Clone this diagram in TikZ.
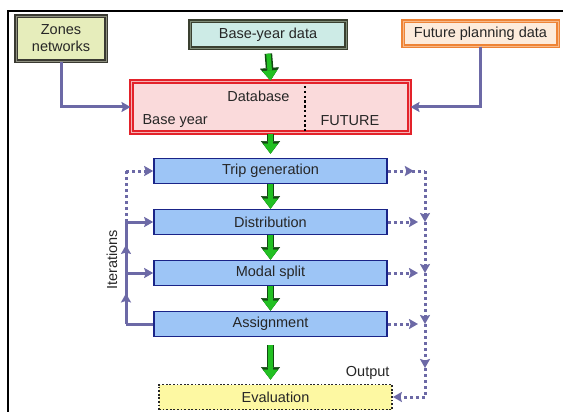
\documentclass[tikz,border=0pt]{standalone}
\usepackage{fontspec}
\setmainfont{Liberation Sans}
\usetikzlibrary{arrows.meta,decorations.markings}

\definecolor{zfill}{HTML}{E6EDBB}
\definecolor{zdraw}{HTML}{3A3A32}
\definecolor{zinner}{HTML}{8E9080}
\definecolor{bfill}{HTML}{CDEBE6}
\definecolor{bdraw}{HTML}{3A4030}
\definecolor{binner}{HTML}{7F8C78}
\definecolor{ffill}{HTML}{FDEBDB}
\definecolor{fdraw}{HTML}{EE8436}
\definecolor{finner}{HTML}{F7B98A}
\definecolor{dbfill}{HTML}{FADADB}
\definecolor{dbdraw}{HTML}{E3222A}
\definecolor{stepfill}{HTML}{9DC5F6}
\definecolor{stepdraw}{HTML}{1A2488}
\definecolor{evfill}{HTML}{FDF8A2}
\definecolor{lcol}{HTML}{6C69A6}
\definecolor{gfill}{HTML}{22C022}
\definecolor{gdark}{HTML}{124A12}

\tikzset{
  basebox/.style={inner sep=0pt, align=center, text=black!85},
  zonesbox/.style={basebox, fill=zfill, draw=zdraw, double=zinner, double distance=0.9pt, line width=1.4pt},
  yearbox/.style={basebox, fill=bfill, draw=bdraw, double=binner, double distance=0.9pt, line width=1.4pt},
  futurebox/.style={basebox, fill=ffill, draw=fdraw, double=finner, double distance=0.9pt, line width=1.4pt},
  dbbox/.style={basebox, fill=dbfill, draw=dbdraw, double=dbdraw!35!white, double distance=0.9pt, line width=2pt},
  stepbox/.style={basebox, fill=stepfill, draw=stepdraw, line width=1.6pt,
    minimum width=233pt, minimum height=25pt},
  evalbox/.style={basebox, fill=evfill, draw=black!85, line width=1.8pt,
    dash pattern=on 1.8pt off 1.8pt, minimum width=233pt, minimum height=25pt},
  tip/.style={-{Stealth[length=9pt,width=10pt,inset=1.5pt]}},
  solidline/.style={draw=lcol, line width=3pt},
  dotline/.style={draw=lcol, line width=3pt, dash pattern=on 3pt off 3pt},
  midtip/.style={postaction={decorate}, decoration={markings,
    mark=at position #1 with {\arrow{Stealth[length=9pt,width=10pt,inset=1.5pt]}}}},
  midtip/.default=0.6,
  garrow/.style={draw=gfill, line width=4.5pt,
    -{Triangle[length=10pt,width=15pt,line width=0.4pt]},
    preaction={draw=gdark, line width=7.5pt,
      -{Triangle[length=12.5pt,width=19pt,line width=0.4pt]}}},
}

\begin{document}
\begin{tikzpicture}[x=1pt,y=-1pt,font=\fontsize{14.5}{17}\selectfont]
\useasboundingbox (0,0) rectangle (563,412);

% outer frame
\draw[black, line width=1.8pt] (8,412) -- (8,11) -- (563,11);

% input boxes
\node[zonesbox, minimum width=90pt, minimum height=45pt] (zones) at (61,38.5)
  {Zones\\networks};
\node[yearbox, minimum width=156pt, minimum height=27pt] (base) at (268,34.5)
  {Base-year data};
\node[futurebox, minimum width=155pt, minimum height=25pt] (future) at (480.5,33.5)
  {Future planning data};

% database
\node[dbbox, minimum width=278pt, minimum height=51pt] (db) at (270.5,107) {};
\node[anchor=east, text=black!85] (dbtitle) at (293,96) {Database};
\node[anchor=west, text=black!85] (dbbase) at (139,121) {Base year};
\node[anchor=west, text=black!85] (dbfuture) at (317,121) {FUTURE};
\coordinate (sepTop) at (305,86);
\coordinate (sepBot) at (305,131);
\draw[black, line width=2.4pt, dash pattern=on 2.4pt off 2.4pt] (sepTop) -- (sepBot);

% model steps
\node[stepbox] (trip) at (270.5,171) {Trip generation};
\node[stepbox] (dist) at (270.5,222) {Distribution};
\node[stepbox] (modal) at (270.5,273) {Modal split};
\node[stepbox] (assign) at (270.5,324) {Assignment};
\node[evalbox] (eval) at (275.5,397) {Evaluation};
\node[anchor=east, text=black!85] (output) at (393,373) {Output};
\node[rotate=90, text=black!85] (iter) at (112,260) {Iterations};

% inputs into the database
\draw[solidline, tip] (zones.south) |- (db.west);
\draw[solidline, tip] (future.south) |- (db.east);

% main flow
\draw[garrow, shorten <=5pt] (base.south) -- (db.north);
\draw[garrow, shorten <=1pt, shorten >=4pt] (db.south) -- (trip.north);
\draw[garrow] (trip.south) -- (dist.north);
\draw[garrow] (dist.south) -- (modal.north);
\draw[garrow] (modal.south) -- (assign.north);
\draw[garrow, shorten <=8pt, shorten >=4pt] (assign.south) -- (assign.south |- eval.north);

% iteration loop on the left
\coordinate (L1) at (126,171);
\coordinate (L2) at (126,222);
\coordinate (L3) at (126,273);
\coordinate (L4) at (126,324);
\draw[dotline, tip] (L1) -- (trip.west);
\draw[dotline] (L2) -- (L1);
\draw[solidline] (assign.west) -- (L4);
\draw[solidline, midtip=0.6] (L4) -- (L3);
\draw[solidline, midtip=0.55] (L3) -- (L2);
\draw[solidline, tip] (L3) -- (modal.west);
\draw[solidline, tip] (L2) -- (dist.west);

% output collection on the right
\coordinate (R1) at (425,171);
\coordinate (R2) at (425,222);
\coordinate (R3) at (425,273);
\coordinate (R4) at (425,324);
\coordinate (R5) at (425,368);
\coordinate (R6) at (425,397);
\draw[dotline, midtip=0.7] (trip.east) -- (R1);
\draw[dotline, tip, shorten >=7pt] (dist.east) -- (R2);
\draw[dotline, tip, shorten >=7pt] (modal.east) -- (R3);
\draw[dotline, tip, shorten >=7pt] (assign.east) -- (R4);
\draw[dotline, tip] (R1) -- (R2);
\draw[dotline, tip] (R2) -- (R3);
\draw[dotline, tip] (R3) -- (R4);
\draw[dotline, tip] (R4) -- (R5);
\draw[dotline] (R5) -- (R6);
\draw[dotline, tip] (R6) -- (eval.east);
\end{tikzpicture}
\end{document}
